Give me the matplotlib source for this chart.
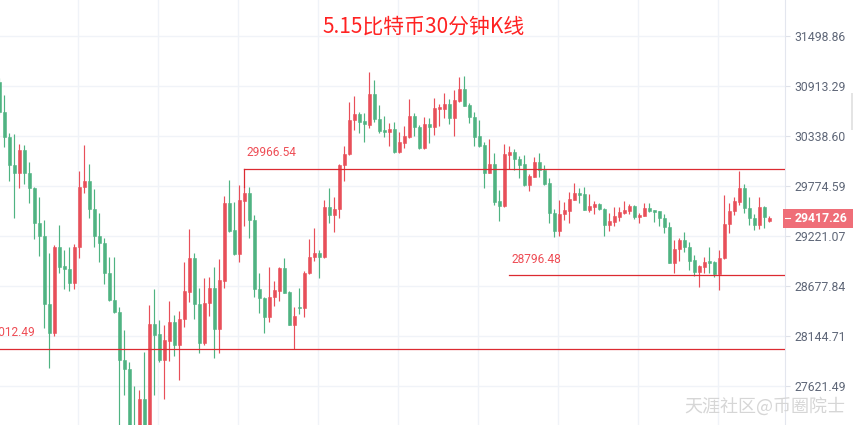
import numpy as np
import matplotlib
matplotlib.use("Agg")
import matplotlib.pyplot as plt
from matplotlib.patches import Rectangle
from matplotlib.transforms import IdentityTransform
from matplotlib.ticker import FixedLocator, NullLocator, FixedFormatter

# 30 min candles, first one is cut off at the left edge
opens = [
    30960, 30615, 30327, 30012, 29921, 30181, 29921, 29752, 29365, 29221,
    28486, 28177, 29102, 28895, 28863, 28711, 29102, 29764, 29831, 29520,
    29221, 29145, 28819, 28529, 28401, 27894, 27799, 27149, 27030, 27488,
    27067, 28273, 28167, 27894, 28092, 28295, 28051, 28327, 28614, 28982,
    28486, 28071, 28497, 28657, 28220, 28733, 29586, 29287, 29026, 29609,
    29697, 29398, 28646, 28550, 28348, 28561, 28625, 28874, 28614, 28263,
    28454, 28444, 28819, 28993, 29036, 28993, 29542, 29454, 29520, 30012,
    30136, 30523, 30592, 30511, 30465, 30821, 30534, 30408, 30385, 30419,
    30158, 30260, 30327, 30569, 30442, 30203, 30477, 30442, 30649, 30649,
    30706, 30546, 30741, 30879, 30695, 30557, 30339, 30237, 29921, 30023,
    29609, 29553, 30124, 30158, 30079, 30023, 29786, 29876, 30045, 29955,
    29808, 29476, 29276, 29465, 29498, 29620, 29697, 29686, 29509, 29542,
    29575, 29520, 29343, 29376, 29431, 29476, 29498, 29553, 29431, 29442,
    29531, 29509, 29498, 29420, 29321, 28928, 29080, 29178, 29102, 28960,
    28830, 28885, 28950, 28939, 28808, 28982, 29354, 29498, 29597, 29752,
    29531, 29420, 29343, 29542, 29387]
highs = [
    31007, 30810, 30373, 30362, 30248, 30237, 30045, 29760, 29653, 29398,
    29036, 29123, 29343, 29069, 29102, 29134, 29944, 30237, 30023, 29741,
    29476, 29199, 28993, 28993, 28454, 28209, 27873, 27621, 27580, 27977,
    28475, 28646, 28316, 28263, 28518, 28369, 28411, 28939, 29299, 29036,
    28657, 28765, 28776, 28885, 28971, 29664, 29842, 29597, 29786, 29764,
    29764, 29454, 28819, 28561, 28885, 28733, 28880, 28982, 28625, 28454,
    28657, 28841, 29189, 29310, 29069, 29620, 29752, 29653, 30023, 30226,
    30729, 30798, 30615, 30603, 31077, 30984, 30695, 30569, 30488, 30500,
    30385, 30454, 30764, 30603, 30465, 30557, 30546, 30775, 30706, 30833,
    30764, 30867, 31019, 31030, 30718, 30615, 30523, 30271, 30305, 30147,
    29730, 30248, 30226, 30192, 30113, 30124, 29910, 30102, 30147, 30012,
    29865, 29520, 29620, 29597, 29708, 29808, 29752, 29764, 29686, 29609,
    29586, 29525, 29476, 29542, 29542, 29609, 29575, 29564, 29476, 29586,
    29586, 29512, 29500, 29465, 29376, 29178, 29199, 29265, 29156, 29015,
    28906, 28993, 29102, 28950, 29069, 29675, 29586, 29653, 29944, 29797,
    29653, 29465, 29653, 29553, 29442]
lows = [
    30592, 30215, 29831, 29420, 29752, 29797, 29586, 29189, 29004, 28231,
    27810, 28145, 28819, 28646, 28625, 28646, 28982, 29697, 29420, 29102,
    28939, 28700, 28518, 28390, 27170, 27529, 27067, 26964, 26964, 26985,
    27016, 27529, 27873, 27488, 27883, 27935, 27684, 28241, 28507, 28327,
    27967, 28051, 28358, 27915, 27967, 28657, 29265, 29015, 28939, 29332,
    29199, 28561, 28390, 28177, 28295, 28465, 28518, 28598, 28258, 28012.49,
    28380, 28348, 28812, 28950, 28765, 28985, 29365, 29265, 29420, 29831,
    30124, 30408, 30373, 30271, 30431, 30500, 30373, 30327, 30226, 30150,
    30150, 30203, 30320, 30339, 30192, 30192, 30260, 30350, 30454, 30546,
    30477, 30339, 30729, 30680, 30488, 30226, 30215, 29752, 29915, 29564,
    29387, 29542, 29966, 29955, 29865, 29780, 29719, 29870, 29876, 29790,
    29365, 29210, 29221, 29398, 29365, 29615, 29586, 29505, 29487, 29465,
    29509, 29221, 29276, 29332, 29387, 29465, 29465, 29409, 29365, 29438,
    29487, 29376, 29332, 29254, 28925, 28819, 28950, 29047, 28852, 28787,
    28667, 28819, 28819, 28776, 28635, 28971, 29254, 29454, 29564, 29476,
    29343, 29287, 29299, 29310, 29376]
closes = [
    30615, 30327, 30012, 29921, 30181, 29921, 29752, 29365, 29221, 28486,
    28177, 29102, 28885, 28863, 28711, 29102, 29764, 29831, 29520, 29221,
    29145, 28819, 28529, 28401, 27894, 27799, 27149, 27067, 27488, 27067,
    28273, 28156, 27894, 28103, 28295, 28051, 28327, 28625, 28982, 28486,
    28071, 28497, 28657, 28220, 28743, 29586, 29276, 29026, 29620, 29697,
    29398, 28646, 28550, 28348, 28561, 28635, 28874, 28603, 28263, 28358,
    28444, 28819, 28993, 29036, 28993, 29542, 29454, 29520, 30012, 30136,
    30523, 30592, 30500, 30477, 30821, 30534, 30396, 30385, 30419, 30158,
    30271, 30339, 30569, 30442, 30203, 30477, 30442, 30660, 30672, 30706,
    30546, 30752, 30879, 30683, 30557, 30327, 30226, 29921, 30023, 29597,
    29553, 30136, 30158, 30079, 30012, 29786, 29887, 30045, 29955, 29797,
    29476, 29276, 29465, 29509, 29631, 29697, 29675, 29509, 29553, 29575,
    29520, 29343, 29387, 29442, 29487, 29509, 29553, 29431, 29454, 29531,
    29498, 29487, 29420, 29321, 28928, 29080, 29178, 29102, 28950, 28830,
    28895, 28939, 28928, 28808, 28982, 29354, 29498, 29609, 29752, 29531,
    29420, 29343, 29542, 29431, 29417.26]

price_ticks = [27621.49, 28144.71, 28677.84, 29221.07, 29774.59, 30338.60, 30913.29, 31498.86]
last_price = 29417.26
# horizontal levels: (price, first candle index or None for full width)
levels = [(29966.54, 48), (28796.48, 101), (28012.49, None)]

RED = "#e84f59"
GREEN = "#4fb382"
LINE = "#dc2a31"
LABEL = "#ee4d55"
AXIS_TXT = "#5f6778"

o = np.array(opens, float)
h = np.array(highs, float)
l = np.array(lows, float)
c = np.array(closes, float)
x = np.arange(len(o)) - 1          # first candle is index -1 (partly hidden)
col = np.where(c >= o, RED, GREEN)

fig = plt.figure(figsize=(8.54, 4.25), dpi=100)
ax = fig.add_axes([0, 0, 785 / 854, 1])
ax.set_yscale("log")
x_left, x_right = -0.86, 156.14
ax.set_xlim(x_left, x_right)
ax.set_ylim(27220.2, 31927.3)

# grid
ax.set_xticks(np.arange(14.74, x_right, 16))
ax.tick_params(axis="x", length=0, labelbottom=False)
ax.yaxis.set_major_locator(FixedLocator(price_ticks))
ax.yaxis.set_major_formatter(FixedFormatter([f"{p:.2f}" for p in price_ticks]))
ax.yaxis.set_minor_locator(NullLocator())
ax.grid(True, color="#f0f3f8", lw=1)
ax.set_axisbelow(True)
ax.yaxis.tick_right()
ax.tick_params(axis="y", length=3.6, width=0.8, color="#dfe2ea", pad=2.9,
               labelsize=8.8, labelcolor=AXIS_TXT)
for lab in ax.get_yticklabels():
    lab.set_family("Roboto")
for s in ["top", "left", "bottom"]:
    ax.spines[s].set_visible(False)
ax.spines["right"].set_color("#e3e6ee")

# candles
ax.vlines(x, l, h, colors=col, lw=0.85, zorder=3)
ax.bar(x, np.abs(c - o), bottom=np.minimum(o, c), width=0.62, color=col,
       edgecolor=col, linewidth=0.4, zorder=4)

# level lines with their labels
for lvl, start in levels:
    xs = x_left if start is None else start
    ax.plot([xs, x_right], [lvl, lvl], color=LINE, lw=0.9, zorder=5)
    if start == 48:
        ax.plot([start, start], [lvl, h[start + 1]], color=LINE, lw=0.9, zorder=5)
    if start is None:
        # label of a line that starts left of the view, so it is cut by the edge
        ax.annotate(f"{lvl:.2f}", (xs, lvl), xytext=(-10.2, 11.5), textcoords="offset points",
                    va="center", ha="left", color=LABEL, fontsize=8.6, family="Roboto",
                    annotation_clip=False)
    else:
        ax.annotate(f"{lvl:.2f}", (xs, lvl), xytext=(1.5, 11.5), textcoords="offset points",
                    va="center", ha="left", color=LABEL, fontsize=8.6, family="Roboto")

# current price tag
fig.canvas.draw()
ypx = ax.transData.transform((0, last_price))[1]
fig.add_artist(Rectangle((783, ypx - 9.5), 71, 19, transform=IdentityTransform(),
                         facecolor="#ef6e78", edgecolor="none", zorder=10))
fig.add_artist(plt.Line2D([785, 790], [ypx, ypx], transform=IdentityTransform(),
                          color="white", lw=0.8, zorder=11))
fig.text(795, ypx, f"{last_price:.2f}", transform=IdentityTransform(), color="white",
         fontsize=8.8, fontweight="bold", family="Roboto", va="center", ha="left", zorder=12)

# little scrollbar at the far right
fig.add_artist(Rectangle((851, 425 - 130), 3, 37, transform=IdentityTransform(),
                         facecolor="#e4e4e4", edgecolor="none"))

cjk = ["Noto Sans CJK SC", "DejaVu Sans"]
fig.text(424 / 854, 1 - 27 / 425, "5.15比特币30分钟K线", ha="center", va="center",
         fontsize=15, color="#ff2222", family=cjk)
fig.text(845 / 854, 1 - 406 / 425, "天涯社区@币圈院士", ha="right", va="center",
         fontsize=13, color="#d6d6d6", family=cjk)

fig.savefig("out.png", dpi=100)
